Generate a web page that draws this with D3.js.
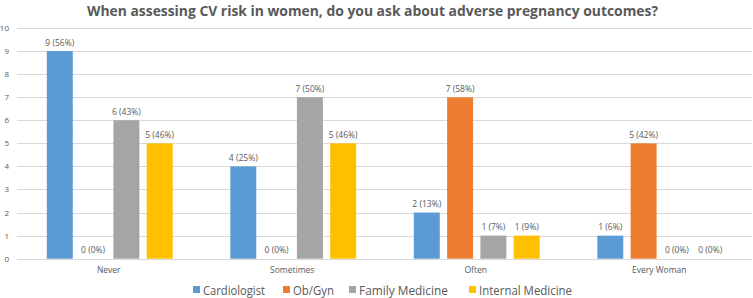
<!DOCTYPE html>
<html><head><meta charset="utf-8">
<script src="https://cdn.jsdelivr.net/npm/d3@7"></script>
<style>body{margin:0;background:#fff}svg{display:block}</style>
</head><body>
<svg id="c" width="753" height="298"></svg>
<script>
const categories = ["Never", "Sometimes", "Often", "Every Woman"];
const seriesNames = ["Cardiologist", "Ob/Gyn", "Family Medicine", "Internal Medicine"];
const cardiologist = [9, 4, 2, 1];
const obgyn = [0, 0, 7, 5];
const familyMedicine = [6, 7, 1, 0];
const internalMedicine = [5, 5, 1, 0];
const cardiologistPct = ["56%", "25%", "13%", "6%"];
const obgynPct = ["0%", "0%", "58%", "42%"];
const familyPct = ["43%", "50%", "7%", "0%"];
const internalPct = ["46%", "46%", "9%", "0%"];
const yTicks = [0,1,2,3,4,5,6,7,8,9,10];
const colors = ["#5B9BD5", "#ED7D31", "#A5A5A5", "#FFC000"];
const title = "When assessing CV risk in women, do you ask about adverse pregnancy outcomes?";

const values = [cardiologist, obgyn, familyMedicine, internalMedicine];
const pcts = [cardiologistPct, obgynPct, familyPct, internalPct];

const svg = d3.select("#c");
const font = "'Open Sans', 'Noto Sans', sans-serif";
const txt = "#595959";

const x0 = d3.scaleBand().domain(categories).range([18, 752]).paddingInner(0).paddingOuter(0);
const x1 = d3.scaleBand().domain(seriesNames).range([0, x0.bandwidth()]).paddingInner(0.22).paddingOuter(0.865);
const y = d3.scaleLinear().domain([0, 10]).range([258.7, 28]);

// gridlines
svg.append("g").selectAll("line").data(yTicks).join("line")
  .attr("x1", 17).attr("x2", 752)
  .attr("y1", d => Math.round(y(d)) + 0.5).attr("y2", d => Math.round(y(d)) + 0.5)
  .attr("stroke", "#D9D9D9").attr("stroke-width", 1);

// y tick labels
svg.append("g").selectAll("text").data(yTicks).join("text")
  .attr("x", 9).attr("y", d => y(d) + 3)
  .attr("text-anchor", "end").attr("font-family", font).attr("font-size", 8)
  .attr("fill", txt).text(d => d);

// bars
const data = [];
categories.forEach((c, i) => seriesNames.forEach((s, j) => data.push({c, s, j, v: values[j][i], p: pcts[j][i]})));

svg.append("g").selectAll("rect").data(data).join("rect")
  .attr("x", d => x0(d.c) + x1(d.s))
  .attr("width", x1.bandwidth())
  .attr("y", d => y(d.v))
  .attr("height", d => y(0) - y(d.v))
  .attr("fill", d => colors[d.j]);

svg.append("g").selectAll("text").data(data).join("text")
  .attr("x", d => x0(d.c) + x1(d.s) + x1.bandwidth() / 2)
  .attr("y", d => y(d.v) - 5.5)
  .attr("text-anchor", "middle").attr("font-family", font).attr("font-size", 8.5)
  .attr("fill", txt).text(d => `${d.v} (${d.p})`);

// category labels
svg.append("g").selectAll("text").data(categories).join("text")
  .attr("x", d => x0(d) + x0.bandwidth() / 2 - 1)
  .attr("y", 273)
  .attr("text-anchor", "middle").attr("font-family", font).attr("font-size", 8.5)
  .attr("fill", txt).text(d => d);

// title
svg.append("text").attr("x", 372.5).attr("y", 15.5)
  .attr("text-anchor", "middle").attr("font-family", font).attr("font-weight", "bold")
  .attr("font-size", 14.5).attr("fill", txt)
  .attr("textLength", 571).attr("lengthAdjust", "spacingAndGlyphs")
  .text(title);

// legend
const legX = [193, 283, 349, 469];
const legW = [62, 41, 89, 93];
const lg = svg.append("g").selectAll("g").data(seriesNames).join("g");
lg.append("rect").attr("x", (d, i) => legX[i]).attr("y", 286).attr("width", 7).attr("height", 7)
  .attr("fill", (d, i) => colors[i]);
lg.append("text").attr("x", (d, i) => legX[i] + 10).attr("y", 295)
  .attr("font-family", font).attr("font-size", 13).attr("fill", txt)
  .attr("textLength", (d, i) => legW[i]).attr("lengthAdjust", "spacingAndGlyphs")
  .text(d => d);
</script>
</body></html>
